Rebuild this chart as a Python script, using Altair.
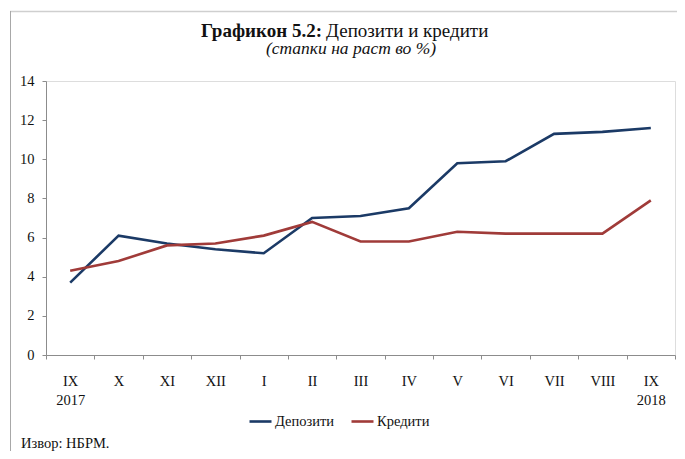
import altair as alt
import pandas as pd

months = ["IX 2017", "X", "XI", "XII", "I", "II", "III", "IV", "V", "VI", "VII", "VIII", "IX 2018"]
deposits = [3.7, 6.1, 5.7, 5.4, 5.2, 7.0, 7.1, 7.5, 9.8, 9.9, 11.3, 11.4, 11.6]
credits = [4.3, 4.8, 5.6, 5.7, 6.1, 6.8, 5.8, 5.8, 6.3, 6.2, 6.2, 6.2, 7.9]
series_names = ["Депозити", "Кредити"]
series_colors = ["#1B3A66", "#A03B39"]

rows = []
for name, vals in zip(series_names, [deposits, credits]):
    for i, (m, v) in enumerate(zip(months, vals)):
        rows.append({"month": m, "value": v, "series": name, "order": i})
df = pd.DataFrame(rows)

FONT = "Liberation Serif"
W, H = 629, 274

lines = alt.Chart(df).mark_line(strokeWidth=2.6).encode(
    x=alt.X("month:N", sort=months,
            scale=alt.Scale(paddingInner=0, paddingOuter=0),
            axis=alt.Axis(title=None, labelAngle=0, tickBand="extent",
                          labelExpr="isValid(datum.value) ? split(datum.value, ' ') : ''",
                          labelFont=FONT, labelFontSize=14.5, labelColor="#111",
                          labelPadding=15, labelLineHeight=19,
                          tickSize=4, tickColor="#8c8c8c", domainColor="#8c8c8c",
                          grid=False)),
    y=alt.Y("value:Q", scale=alt.Scale(domain=[0, 14], nice=False),
            axis=alt.Axis(title=None, values=list(range(0, 15, 2)),
                          labelFont=FONT, labelFontSize=14.5, labelColor="#111",
                          labelPadding=8, tickSize=4, tickColor="#8c8c8c",
                          domainColor="#8c8c8c", grid=False)),
    color=alt.Color("series:N",
                    scale=alt.Scale(domain=series_names, range=series_colors),
                    legend=alt.Legend(title=None, orient="none", direction="horizontal",
                                      legendX=202, legendY=328,
                                      symbolType="stroke", symbolSize=484,
                                      symbolStrokeWidth=2.6, labelOffset=2,
                                      columnPadding=11,
                                      labelFont=FONT, labelFontSize=14.5,
                                      labelColor="#111")),
    detail="series:N",
    order="order:Q",
)

title_bold = alt.Chart().mark_text(font=FONT, fontSize=19, fontWeight="bold",
                                    align="right", baseline="alphabetic", color="#111").encode(
    x=alt.value(276), y=alt.value(-44), text=alt.value("Графикон 5.2:"))
title_reg = alt.Chart().mark_text(font=FONT, fontSize=19,
                                   align="left", baseline="alphabetic", color="#111").encode(
    x=alt.value(280), y=alt.value(-44), text=alt.value("Депозити и кредити"))
subtitle = alt.Chart().mark_text(font=FONT, fontSize=17.5, fontStyle="italic",
                                  align="center", baseline="alphabetic", color="#111").encode(
    x=alt.value(305), y=alt.value(-27), text=alt.value("(стапки на раст во %)"))
source = alt.Chart().mark_text(font=FONT, fontSize=14.5,
                                align="left", baseline="alphabetic", color="#111").encode(
    x=alt.value(-25), y=alt.value(367), text=alt.value("Извор: НБРМ."))

border_top = alt.Chart().mark_rule(color="#cfcfcf", strokeWidth=1.5).encode(
    x=alt.value(-36), x2=alt.value(W + 10), y=alt.value(-69.5))
border_left = alt.Chart().mark_rule(color="#a8a8a8", strokeWidth=1).encode(
    x=alt.value(-35.5), y=alt.value(-70), y2=alt.value(376))

chart = alt.layer(border_top, border_left, lines, title_bold, title_reg, subtitle, source).properties(
    width=W, height=H,
    autosize=alt.AutoSizeParams(type="none"),
    padding={"left": 38, "top": 73, "right": 2, "bottom": 96},
).configure_view(stroke=None).configure(background="white")

chart.save("out.html", embed_options={"renderer": "svg", "actions": False})
